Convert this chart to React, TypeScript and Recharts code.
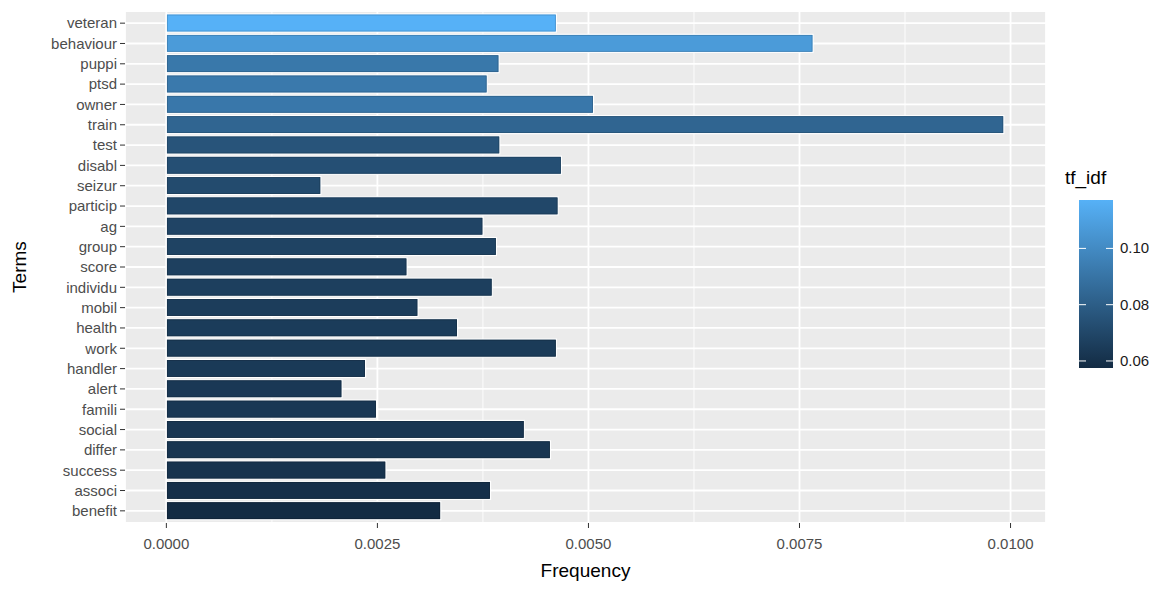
import { BarChart, Bar, XAxis, YAxis, CartesianGrid } from 'recharts';

const terms = ['veteran', 'behaviour', 'puppi', 'ptsd', 'owner', 'train', 'test', 'disabl', 'seizur', 'particip', 'ag', 'group', 'score', 'individu', 'mobil', 'health', 'work', 'handler', 'alert', 'famili', 'social', 'differ', 'success', 'associ', 'benefit'];
const frequency = [0.00462, 0.00766, 0.00394, 0.0038, 0.00506, 0.00992, 0.00395, 0.00468, 0.00183, 0.00464, 0.00375, 0.00391, 0.00285, 0.00386, 0.00298, 0.00345, 0.00462, 0.00236, 0.00208, 0.00249, 0.00424, 0.00455, 0.0026, 0.00384, 0.00325];
const tfIdf = [0.1172, 0.1074, 0.0918, 0.0922, 0.0915, 0.0833, 0.0758, 0.0736, 0.0718, 0.07, 0.0687, 0.068, 0.0669, 0.0665, 0.0655, 0.065, 0.0645, 0.064, 0.0635, 0.063, 0.0625, 0.062, 0.061, 0.0595, 0.0575];
const xTicks = [0, 0.0025, 0.005, 0.0075, 0.01];
const xMinor = [0.00125, 0.00375, 0.00625, 0.00875];
const legendTicks = [0.06, 0.08, 0.1];

const data = terms.map((term, i) => ({ term, frequency: frequency[i], tfIdf: tfIdf[i] }));

const LOW = [0x13, 0x2b, 0x43];
const HIGH = [0x56, 0xb1, 0xf7];
const tfMin = Math.min(...tfIdf);
const tfMax = Math.max(...tfIdf);

const mix = (t: number, k = 1) => {
  const c = LOW.map((l, i) => Math.round((l + (HIGH[i] - l) * t) * k));
  return `rgb(${c[0]},${c[1]},${c[2]})`;
};
const colorOf = (v: number) => mix((v - tfMin) / (tfMax - tfMin));
const edgeOf = (v: number) => mix((v - tfMin) / (tfMax - tfMin), 0.82);

const BarShape = (props: any) => {
  const { x, y, width, height, payload } = props;
  if (!width || width <= 0) return null;
  return (
    <g>
      <rect x={x} y={y} width={width} height={height} fill={colorOf(payload.tfIdf)} stroke="#ffffff" strokeWidth={1.2} />
      <rect x={x + 1} y={y + 1} width={width - 2} height={height - 2} fill="none" stroke={edgeOf(payload.tfIdf)} strokeWidth={0.8} />
    </g>
  );
};

// ggplot-style colourbar for tf_idf
const ColourBar = () => {
  const top = 40;
  const h = 168;
  const w = 34;
  const yOf = (v: number) => top + h - ((v - tfMin) / (tfMax - tfMin)) * h;
  return (
    <svg width={100} height={230} style={{ position: 'absolute', left: 1060, top: 160 }}>
      <defs>
        <linearGradient id="tfGrad" x1="0" y1="1" x2="0" y2="0">
          <stop offset="0%" stopColor={mix(0)} />
          <stop offset="100%" stopColor={mix(1)} />
        </linearGradient>
      </defs>
      <text x={5} y={24} fontSize={19} fill="#000000">tf_idf</text>
      <rect x={19} y={top} width={w} height={h} fill="url(#tfGrad)" />
      {legendTicks.map((v) => (
        <g key={v}>
          <line x1={19} x2={26} y1={yOf(v)} y2={yOf(v)} stroke="#ffffff" strokeWidth={1} />
          <line x1={46} x2={53} y1={yOf(v)} y2={yOf(v)} stroke="#ffffff" strokeWidth={1} />
          <text x={60} y={yOf(v) + 5} fontSize={15} fill="#1a1a1a">{v.toFixed(2)}</text>
        </g>
      ))}
    </svg>
  );
};

export default function App() {
  return (
    <div style={{ position: 'absolute', left: 0, top: 0, width: 1170, height: 589, background: '#ffffff', fontFamily: '"Liberation Sans", Arial, sans-serif' }}>
      <BarChart
        width={1170}
        height={589}
        data={data}
        layout="vertical"
        margin={{ top: 11, right: 124, bottom: 0, left: 0 }}
        barCategoryGap="5%"
      >
        <CartesianGrid fill="#EBEBEB" stroke="#ffffff" strokeWidth={0.9} horizontal={false} verticalValues={xMinor} />
        <CartesianGrid stroke="#ffffff" strokeWidth={1.8} fillOpacity={0} />
        <XAxis
          type="number"
          dataKey="frequency"
          domain={[-0.00049, 0.01042]}
          allowDataOverflow
          ticks={xTicks}
          tickFormatter={(v: number) => v.toFixed(4)}
          axisLine={false}
          tickLine={{ stroke: '#333333' }}
          tickSize={5}
          tickMargin={10}
          tick={{ fill: '#4D4D4D', fontSize: 15 }}
          height={66}
          label={{ value: 'Frequency', position: 'insideBottom', offset: 12, fill: '#000000', fontSize: 19 }}
        />
        <YAxis
          type="category"
          dataKey="term"
          width={125}
          axisLine={false}
          tickLine={{ stroke: '#333333' }}
          tickSize={5}
          tickMargin={3}
          interval={0}
          padding={{ top: 2, bottom: 2 }}
          tick={{ fill: '#4D4D4D', fontSize: 15 }}
          label={{
            content: () => (
              <text x={26} y={267} fontSize={19} fill="#000000" textAnchor="middle" transform="rotate(-90 26 267)">Terms</text>
            ),
          }}
        />
        <Bar dataKey="frequency" isAnimationActive={false} shape={BarShape} />
      </BarChart>
      <ColourBar />
    </div>
  );
}
